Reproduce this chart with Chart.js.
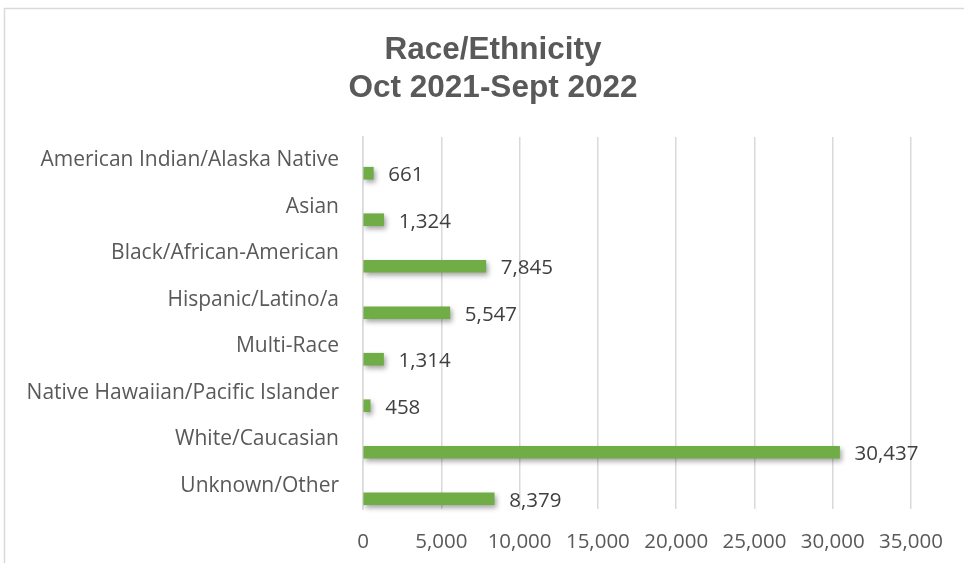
<!DOCTYPE html>
<html>
<head>
<meta charset="utf-8">
<script src="https://cdn.jsdelivr.net/npm/chart.js@4/dist/chart.umd.min.js"></script>
<style>
  html, body { margin: 0; padding: 0; background: #ffffff; }
  #wrap { width: 964px; height: 563px; position: relative; }
</style>
</head>
<body>
<div id="wrap"><canvas id="c" width="964" height="563"></canvas></div>
<script>
const categories = [
  "American Indian/Alaska Native",
  "Asian",
  "Black/African-American",
  "Hispanic/Latino/a",
  "Multi-Race",
  "Native Hawaiian/Pacific Islander",
  "White/Caucasian",
  "Unknown/Other"
];
const counts = [661, 1324, 7845, 5547, 1314, 458, 30437, 8379];
const titleLines = ["Race/Ethnicity", "Oct 2021-Sept 2022"];
const xMin = 0, xMax = 35000, xStep = 5000;

const BAR_SHIFT = 13;
const LABEL_FONT = "'Open Sans', Lato, sans-serif";
const CAT_SIZE = 21;
const NUM_SIZE = 20.5;

const frame = {
  id: 'frame',
  beforeDraw(chart) {
    const ctx = chart.ctx;
    ctx.save();
    ctx.fillStyle = '#ffffff';
    ctx.fillRect(0, 0, chart.width, chart.height);
    ctx.strokeStyle = '#d9d9d9';
    ctx.lineWidth = 1.5;
    ctx.strokeRect(4.5, 8.5, chart.width + 20, chart.height + 20);
    ctx.restore();
  }
};

const titleShift = {
  id: 'titleShift',
  afterLayout(chart) {
    const t = chart.titleBlock;
    if (t) { t.left = 22; t.right = 964; }
  }
};

const shiftBars = {
  id: 'shiftBars',
  beforeDatasetDraw(chart) {
    const ctx = chart.ctx;
    ctx.save();
    ctx.translate(0, BAR_SHIFT);
    ctx.shadowColor = 'rgba(0,0,0,0.35)';
    ctx.shadowBlur = 5;
    ctx.shadowOffsetX = 2;
    ctx.shadowOffsetY = 3;
  },
  afterDatasetDraw(chart) {
    chart.ctx.restore();
  }
};

const valueLabels = {
  id: 'valueLabels',
  afterDatasetsDraw(chart) {
    const ctx = chart.ctx;
    const meta = chart.getDatasetMeta(0);
    ctx.save();
    ctx.font = NUM_SIZE + "px " + LABEL_FONT;
    ctx.fillStyle = '#404040';
    ctx.textAlign = 'left';
    ctx.textBaseline = 'middle';
    meta.data.forEach((bar, i) => {
      const txt = counts[i].toLocaleString('en-US');
      ctx.fillText(txt, bar.x + 15, bar.y + BAR_SHIFT + 2);
    });
    ctx.restore();
  }
};

const ctx = document.getElementById('c').getContext('2d');
new Chart(ctx, {
  type: 'bar',
  data: {
    labels: categories,
    datasets: [{
      data: counts,
      backgroundColor: '#70ad47',
      borderWidth: 0,
      barThickness: 12
    }]
  },
  options: {
    indexAxis: 'y',
    responsive: false,
    animation: false,
    events: [],
    layout: { padding: { left: 10, right: 51, top: 0, bottom: 0 } },
    plugins: {
      legend: { display: false },
      tooltip: { enabled: false },
      title: {
        display: true,
        text: titleLines,
        color: '#595959',
        font: { family: "'Liberation Sans', Arial, sans-serif", size: 31.5, weight: 'bold', lineHeight: 1.19 },
        padding: { top: 32, bottom: 30 }
      }
    },
    scales: {
      x: {
        type: 'linear',
        min: xMin,
        max: xMax,
        ticks: {
          stepSize: xStep,
          color: '#595959',
          font: { family: LABEL_FONT, size: NUM_SIZE },
          padding: 21,
          maxRotation: 0,
          callback: (v) => Number(v).toLocaleString('en-US')
        },
        grid: { color: '#d9d9d9', lineWidth: 1.5, drawTicks: false },
        border: { display: false },
        afterFit(scale) { scale.height = 54; }
      },
      y: {
        type: 'category',
        ticks: {
          color: '#595959',
          font: { family: LABEL_FONT, size: CAT_SIZE },
          padding: 24,
          autoSkip: false
        },
        grid: { display: false, drawTicks: false },
        border: { display: true, color: '#d9d9d9', width: 1.5 },
        afterFit(scale) { scale.width = 353; }
      }
    }
  },
  plugins: [frame, titleShift, shiftBars, valueLabels]
});
</script>
</body>
</html>
